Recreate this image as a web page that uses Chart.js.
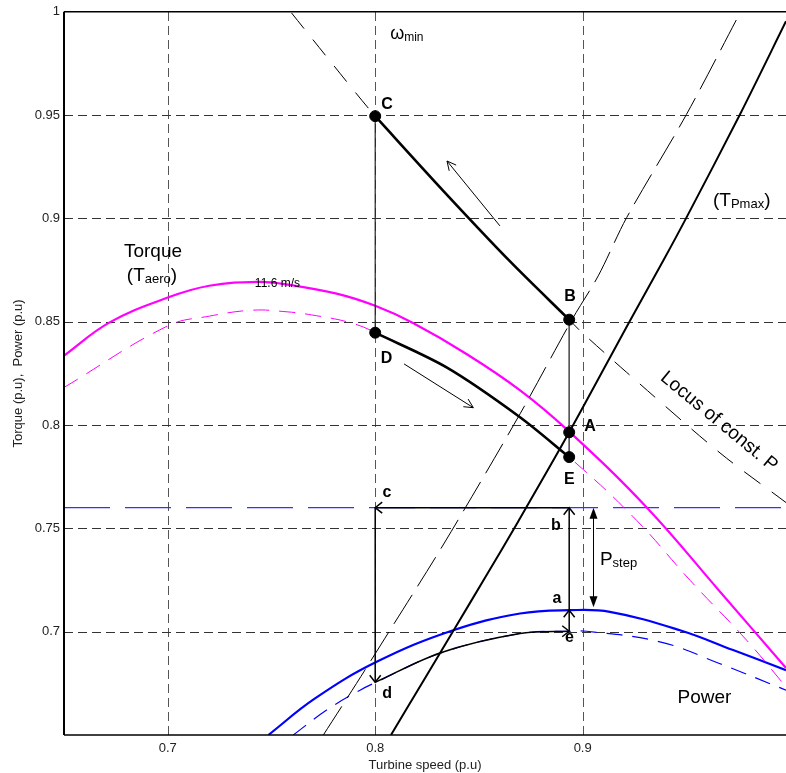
<!DOCTYPE html>
<html>
<head>
<meta charset="utf-8">
<script src="https://cdn.jsdelivr.net/npm/chart.js@4.4.0/dist/chart.umd.min.js"></script>
<style>
  html, body { margin: 0; padding: 0; background: #fff; overflow: hidden; }
  #wrap { width: 786px; height: 773px; position: relative; }
  #chart { display: block; }
</style>
</head>
<body>
<div id="wrap"><canvas id="chart"></canvas></div>
<script>
// axis ticks
const speedTicks = [0.7, 0.8, 0.9];
const valueTicks = [0.7, 0.75, 0.8, 0.85, 0.9, 0.95, 1];

// aerodynamic torque at 11.6 m/s (solid) and at the lower wind speed (dashed)
const torqueHiX = [0.65, 0.672, 0.70, 0.72, 0.744, 0.757, 0.7814, 0.80, 0.818, 0.844, 0.87, 0.893, 0.931, 0.966, 0.998];
const torqueHiY = [0.8336, 0.8497, 0.8617, 0.8674, 0.8693, 0.8681, 0.8636, 0.8577, 0.8495, 0.8344, 0.8167, 0.7973, 0.76, 0.7196, 0.6824];
const torqueLoX = [0.65, 0.70, 0.72, 0.741, 0.7575, 0.7694, 0.7875, 0.80, 0.8344, 0.8698, 0.8963, 0.926, 0.952, 0.979, 0.998];
const torqueLoY = [0.8182, 0.848, 0.8527, 0.8556, 0.8548, 0.8533, 0.8497, 0.8449, 0.8279, 0.8038, 0.782, 0.7539, 0.7246, 0.6959, 0.6733];

// power curves
const powerHiX = [0.7485, 0.771, 0.8007, 0.8376, 0.8698, 0.8939, 0.9131, 0.9469, 0.9725, 0.998];
const powerHiY = [0.65, 0.6677, 0.6854, 0.7007, 0.7088, 0.7104, 0.7096, 0.7007, 0.6911, 0.6814];
const powerLoX = [0.7605, 0.7766, 0.7927, 0.8004, 0.8312, 0.8698, 0.8939, 0.9019, 0.9372, 0.9662, 0.998];
const powerLoY = [0.65, 0.6621, 0.6717, 0.6755, 0.6895, 0.6991, 0.7002, 0.7002, 0.6951, 0.6845, 0.6717];

// maximum power torque (solid) and shifted one (dashed)
const tpmaxX = [0.8076, 0.8237, 0.8384, 0.8537, 0.869, 0.8935, 0.9228, 0.9388, 0.95, 0.9758, 0.998];
const tpmaxY = [0.65, 0.677, 0.7017, 0.7274, 0.7535, 0.7965, 0.8505, 0.8795, 0.9004, 0.9503, 0.9954];
const tpmax2X = [0.775, 0.791, 0.8071, 0.8336, 0.8698, 0.895, 0.9075, 0.9212, 0.95, 0.9758];
const tpmax2Y = [0.65, 0.675, 0.7007, 0.7434, 0.8054, 0.8513, 0.8722, 0.9004, 0.9503, 0.9994];

// locus of constant power
const locusX = [0.7597, 0.78, 0.8, 0.8327, 0.865, 0.8935, 0.8987, 0.9212, 0.9662, 0.998];
const locusY = [0.9994, 0.974, 0.9495, 0.9135, 0.8792, 0.851, 0.8457, 0.8255, 0.7865, 0.7625];

// transition paths
const pathCBX = [0.8, 0.8327, 0.865, 0.8935];
const pathCBY = [0.9495, 0.9135, 0.8792, 0.851];
const pathDEX = [0.8, 0.8344, 0.8698, 0.8935];
const pathDEY = [0.8447, 0.8279, 0.8038, 0.7845];
const pathdeX = [0.8, 0.8312, 0.8698, 0.8935];
const pathdeY = [0.6755, 0.6897, 0.6991, 0.7002];

// operating points C, B, A, E, D
const opX = [0.8, 0.8935, 0.8935, 0.8935, 0.8];
const opY = [0.9495, 0.851, 0.7965, 0.7845, 0.8447];

// power reference level, minimum speed, operating speed
const pRef = 0.76;
const wMin = 0.8;
const wOp = 0.8935;

const pts = (xs, ys) => xs.map((x, i) => ({ x, y: ys[i] }));

function line(data, color, width, dash, tension) {
  return {
    data, showLine: true, borderColor: color, borderWidth: width,
    borderDash: dash || [], pointRadius: 0, fill: false,
    tension: tension || 0
  };
}

const FONT = "'Liberation Sans', Arial, sans-serif";

// text labels: [text, subscript, x, baseline y, size, weight, align, tail]
const labels = [
  ['C', '', 0.8057, 0.9529, 16, 'bold', 'center'],
  ['B', '', 0.8939, 0.8601, 16, 'bold', 'center'],
  ['A', '', 0.9035, 0.7973, 16, 'bold', 'center'],
  ['E', '', 0.8936, 0.7713, 16, 'bold', 'center'],
  ['D', '', 0.8054, 0.8302, 16, 'bold', 'center'],
  ['c', '', 0.8057, 0.765, 16, 'bold', 'center'],
  ['b', '', 0.8871, 0.749, 16, 'bold', 'center'],
  ['a', '', 0.8876, 0.7138, 16, 'bold', 'center'],
  ['e', '', 0.8936, 0.6949, 16, 'bold', 'center'],
  ['d', '', 0.8057, 0.6679, 16, 'bold', 'center'],
  ['\u03c9', 'min', 0.8072, 0.9867, 18, 'normal', 'left'],
  ['(T', 'Pmax', 0.9628, 0.906, 19, 'normal', 'left', ')'],
  ['Torque', '', 0.6929, 0.8812, 19, 'normal', 'center'],
  ['(T', 'aero', 0.6924, 0.8698, 19, 'normal', 'center', ')'],
  ['11.6 m/s', '', 0.742, 0.8666, 12, 'normal', 'left'],
  ['P', 'step', 0.9083, 0.7321, 19, 'normal', 'left'],
  ['Power', '', 0.9587, 0.6655, 19, 'normal', 'center']
];

// open arrowheads along the cycle: [fromX, fromY, toX, toY]
const cycleHeads = [
  [wOp, pRef, wMin, pRef],
  [wMin, pRef, wMin, 0.6755],
  [0.87, 0.7002, wOp, 0.7002],
  [wOp, 0.7002, wOp, 0.7104],
  [wOp, 0.7104, wOp, pRef]
];
// thin direction arrows
const dirArrows = [
  [0.8601, 0.8964, 0.8346, 0.9278],
  [0.8139, 0.8296, 0.8473, 0.8084]
];
// P step double arrow
const stepArrow = [0.905, pRef, 0.905, 0.7118];

function head(ctx, x0, y0, x1, y1, len, half, filled) {
  const ang = Math.atan2(y1 - y0, x1 - x0);
  const bx = x1 - len * Math.cos(ang), by = y1 - len * Math.sin(ang);
  const nx = -Math.sin(ang) * half, ny = Math.cos(ang) * half;
  ctx.beginPath();
  ctx.moveTo(bx + nx, by + ny);
  ctx.lineTo(x1, y1);
  ctx.lineTo(bx - nx, by - ny);
  if (filled) { ctx.closePath(); ctx.fill(); } else ctx.stroke();
}

const overlay = {
  id: 'overlay',
  beforeDatasetsDraw(chart) {
    const { ctx, chartArea: a, scales: { x, y } } = chart;
    ctx.save();
    ctx.lineWidth = 1;
    ctx.setLineDash([9, 5]);
    ctx.strokeStyle = '#555';
    x.ticks.forEach(t => {
      const X = Math.round(x.getPixelForValue(t.value)) + 0.5;
      ctx.beginPath(); ctx.moveTo(X, a.bottom); ctx.lineTo(X, a.top); ctx.stroke();
    });
    ctx.strokeStyle = '#333';
    y.ticks.forEach(t => {
      if (t.value >= 1) return;
      const Y = Math.round(y.getPixelForValue(t.value)) + 0.5;
      ctx.beginPath(); ctx.moveTo(a.left, Y); ctx.lineTo(a.right, Y); ctx.stroke();
    });
    ctx.restore();
  },
  afterDatasetsDraw(chart) {
    const { ctx, chartArea: a, scales: { x, y } } = chart;
    const px = v => x.getPixelForValue(v), py = v => y.getPixelForValue(v);
    ctx.save();
    ctx.setLineDash([]);
    // frame
    ctx.strokeStyle = '#000';
    ctx.lineWidth = 2;
    ctx.beginPath(); ctx.moveTo(a.left, a.top); ctx.lineTo(a.left, a.bottom); ctx.stroke();
    ctx.lineWidth = 1.5;
    ctx.beginPath(); ctx.moveTo(a.left, a.bottom); ctx.lineTo(a.right, a.bottom); ctx.stroke();
    ctx.beginPath(); ctx.moveTo(a.left, a.top); ctx.lineTo(a.right, a.top); ctx.stroke();

    // cycle arrowheads
    ctx.lineWidth = 1.5;
    cycleHeads.forEach(h => head(ctx, px(h[0]), py(h[1]), px(h[2]), py(h[3]), 7, 5.5, false));

    // direction arrows
    ctx.lineWidth = 1;
    dirArrows.forEach(d => {
      const x0 = px(d[0]), y0 = py(d[1]), x1 = px(d[2]), y1 = py(d[3]);
      ctx.beginPath(); ctx.moveTo(x0, y0); ctx.lineTo(x1, y1); ctx.stroke();
      head(ctx, x0, y0, x1, y1, 9, 4.5, false);
    });

    // P step
    {
      const X = Math.round(px(stepArrow[0])) + 0.5, y0 = py(stepArrow[1]), y1 = py(stepArrow[3]);
      ctx.fillStyle = '#000';
      ctx.beginPath(); ctx.moveTo(X, y0 + 8); ctx.lineTo(X, y1 - 8); ctx.stroke();
      head(ctx, X, y1, X, y0, 11, 4, true);
      head(ctx, X, y0, X, y1, 11, 4, true);
    }

    // labels
    ctx.fillStyle = '#000';
    ctx.textBaseline = 'alphabetic';
    labels.forEach(l => {
      const [text, sub, lx, ly, size, weight, align, tail] = l;
      const subSize = Math.round(size * 0.68);
      ctx.font = `${weight} ${size}px ${FONT}`;
      const w1 = ctx.measureText(text).width;
      ctx.font = `${weight} ${subSize}px ${FONT}`;
      const w2 = sub ? ctx.measureText(sub).width : 0;
      ctx.font = `${weight} ${size}px ${FONT}`;
      const w3 = tail ? ctx.measureText(tail).width : 0;
      let X = px(lx);
      const Y = py(ly);
      if (align === 'center') X -= (w1 + w2 + w3) / 2;
      ctx.textAlign = 'left';
      ctx.fillText(text, X, Y);
      if (sub) {
        ctx.font = `${weight} ${subSize}px ${FONT}`;
        ctx.fillText(sub, X + w1, Y + 2);
      }
      if (tail) {
        ctx.font = `${weight} ${size}px ${FONT}`;
        ctx.fillText(tail, X + w1 + w2, Y);
      }
    });

    // rotated locus label
    ctx.save();
    ctx.translate(px(0.9657), py(0.8017));
    ctx.rotate(39.5 * Math.PI / 180);
    ctx.font = `19px ${FONT}`;
    ctx.textAlign = 'center';
    ctx.textBaseline = 'middle';
    ctx.fillText('Locus of const. P', 0, 0);
    ctx.restore();

    ctx.restore();
  }
};

new Chart(document.getElementById('chart'), {
  type: 'scatter',
  data: {
    datasets: [
      { data: pts(opX, opY), pointRadius: 5.5, pointHoverRadius: 5.5, backgroundColor: '#000', borderColor: '#000', showLine: false },
      line(pts(pathCBX, pathCBY), '#000', 2.6, null, 0.3),
      line(pts(pathDEX, pathDEY), '#000', 2.6, null, 0.3),
      line(pts(pathdeX, pathdeY), '#000', 1.5, null, 0.3),
      line(pts([wMin, wMin], [opY[0], opY[4]]), '#222', 1.2),
      line(pts([wOp, wOp], [opY[1], opY[3]]), '#555', 1),
      line(pts([wOp, wMin], [pRef, pRef]), '#000', 1.5),
      line(pts([wMin, wMin], [pRef, 0.6755]), '#000', 1.5),
      line(pts([wOp, wOp], [0.7002, pRef]), '#000', 1.5),
      line(pts(tpmaxX, tpmaxY), '#000', 2, null, 0.3),
      line(pts(tpmax2X, tpmax2Y), '#000', 1, [34, 10], 0.3),
      line(pts(locusX, locusY), '#000', 1, [20, 14], 0.3),
      line(pts(torqueHiX, torqueHiY), '#ff00ff', 2.2, null, 0.4),
      line(pts(torqueLoX, torqueLoY), '#ff00ff', 1, [16, 10], 0.4),
      line(pts(powerHiX, powerHiY), '#0000ff', 2.2, null, 0.4),
      line(pts(powerLoX, powerLoY), '#0000ff', 1.2, [16, 10], 0.4),
      line(pts([0.65, 0.998], [pRef, pRef]), '#3333ff', 1.3, [46, 15])
    ]
  },
  options: {
    responsive: true,
    maintainAspectRatio: false,
    animation: false,
    devicePixelRatio: 1,
    layout: { autoPadding: false, padding: { top: 10, right: 0, bottom: 0, left: 0 } },
    plugins: { legend: { display: false }, tooltip: { enabled: false } },
    scales: {
      x: {
        type: 'linear', min: 0.65, max: 0.998,
        afterBuildTicks: s => { s.ticks = speedTicks.map(v => ({ value: v })); },
        afterFit: s => { s.height = 38; s.paddingLeft = 0; s.paddingRight = 0; },
        grid: { display: false, drawTicks: false },
        border: { display: false },
        ticks: { color: '#222', padding: 6, font: { family: FONT, size: 13 }, callback: v => String(Number(v.toFixed(2))) },
        title: { display: true, text: 'Turbine speed (p.u)', color: '#222', padding: { top: 0, bottom: 0 }, font: { family: FONT, size: 13 } }
      },
      y: {
        type: 'linear', min: 0.65, max: 1,
        afterBuildTicks: s => { s.ticks = valueTicks.map(v => ({ value: v })); },
        afterFit: s => { s.width = 64; },
        grid: { display: false, drawTicks: false },
        border: { display: false },
        ticks: { color: '#222', padding: 4, font: { family: FONT, size: 13 }, callback: v => String(Number(v.toFixed(2))) },
        title: { display: true, text: 'Torque (p.u),  Power (p.u)', color: '#222', padding: { top: 11, bottom: 0 }, font: { family: FONT, size: 13 } }
      }
    }
  },
  plugins: [overlay]
});
</script>
</body>
</html>
